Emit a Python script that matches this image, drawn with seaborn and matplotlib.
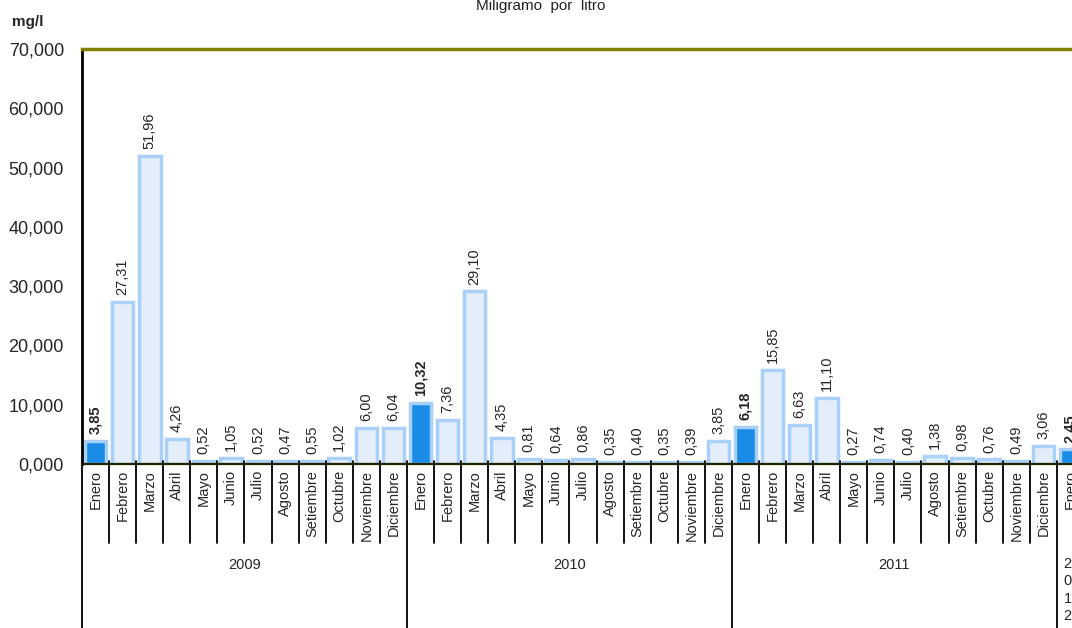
import pandas as pd
import matplotlib
matplotlib.use("Agg")
import matplotlib.pyplot as plt
import matplotlib.transforms as mtransforms
import seaborn as sns

# data (mg/l)
years = ["2009"] * 12 + ["2010"] * 12 + ["2011"] * 12 + ["2012"]
months = ["Enero", "Febrero", "Marzo", "Abril", "Mayo", "Junio", "Julio",
          "Agosto", "Setiembre", "Octubre", "Noviembre", "Diciembre"] * 3 + ["Enero"]
values = [3.85, 27.31, 51.96, 4.26, 0.52, 1.05, 0.52, 0.47, 0.55, 1.02, 6.00, 6.04,
          10.32, 7.36, 29.10, 4.35, 0.81, 0.64, 0.86, 0.35, 0.40, 0.35, 0.39, 3.85,
          6.18, 15.85, 6.63, 11.10, 0.27, 0.74, 0.40, 1.38, 0.98, 0.76, 0.49, 3.06,
          2.45]
year_labels = ["2009", "2010", "2011", "2\n0\n1\n2"]

df = pd.DataFrame({"anio": years, "mes": months, "valor": values})
df["clave"] = df["anio"] + "-" + df["mes"]
df["tipo"] = ["enero" if m == "Enero" else "otro" for m in df["mes"]]

sns.set_style("white")
plt.rcParams["font.family"] = ["Liberation Sans", "DejaVu Sans"]

W, H = 1072, 628
fig = plt.figure(figsize=(W / 100, H / 100), dpi=100)
slot = 27.08
n = len(df)
ax = fig.add_axes([82 / W, 164 / H, n * slot / W, 415 / H])

sns.barplot(data=df, x="clave", y="valor", hue="tipo",
            palette={"enero": "#1a8ce8", "otro": "#e4eefa"},
            dodge=False, legend=False, width=0.8, ax=ax, saturation=1)
for p in ax.patches:
    p.set_edgecolor("#a8d0f8")
    p.set_linewidth(2.5)

ax.set_xlim(-0.5, n - 0.5)
ax.set_ylim(0, 70)
ax.set_yticks(range(0, 71, 10))
ax.set_yticklabels([f"{v},000" for v in range(0, 71, 10)], fontsize=13)
ax.tick_params(axis="y", length=5, width=1.2, color="black", direction="out", pad=8)
ax.set_xticks([])
ax.set_xlabel("")
ax.set_ylabel("")

ax.spines["top"].set_color("#7f7f00")
ax.spines["top"].set_linewidth(2.5)
ax.spines["left"].set_color("black")
ax.spines["left"].set_linewidth(2)
ax.spines["bottom"].set_color("#222200")
ax.spines["bottom"].set_linewidth(1.6)
ax.spines["right"].set_visible(False)

# value labels
for i, v in enumerate(df["valor"]):
    bold = df["mes"][i] == "Enero"
    ax.annotate(f"{v:.2f}".replace(".", ","), (i, v), xytext=(0, 5),
                textcoords="offset points", rotation=90, ha="center", va="bottom",
                fontsize=10.5, fontweight="bold" if bold else "normal")

# category axis below: months, separators, years
tr = mtransforms.blended_transform_factory(ax.transData, ax.transAxes)
px = 1 / 415
for i, m in enumerate(df["mes"]):
    ax.text(i, -6 * px, m, rotation=90, ha="center", va="top", fontsize=10.5,
            transform=tr, clip_on=False)
for i in range(n + 1):
    low = -170 * px if i % 12 == 0 else -79 * px
    ax.plot([i - 0.5, i - 0.5], [3 * px, low], color="black", lw=1.3,
            transform=tr, clip_on=False)

for k, lab in enumerate(year_labels):
    idx = [i for i in range(n) if years[i] == ["2009", "2010", "2011", "2012"][k]]
    xc = (idx[0] + idx[-1]) / 2
    if "\n" in lab:
        ax.text(xc - 0.1, -93 * px, lab, ha="center", va="top", fontsize=10.5,
                linespacing=1.3, transform=tr, clip_on=False)
    else:
        ax.text(xc, -101 * px, lab, ha="center", va="center", fontsize=10.5,
                transform=tr, clip_on=False)

fig.text(12 / W, 1 - 22 / H, "mg/l", fontsize=11, fontweight="bold", va="center")
fig.text(541 / W, 1 - 10 / H, "Miligramo  por  litro", fontsize=11,
         ha="center", va="baseline", color="#222222")

fig.savefig("out.png", dpi=100)
